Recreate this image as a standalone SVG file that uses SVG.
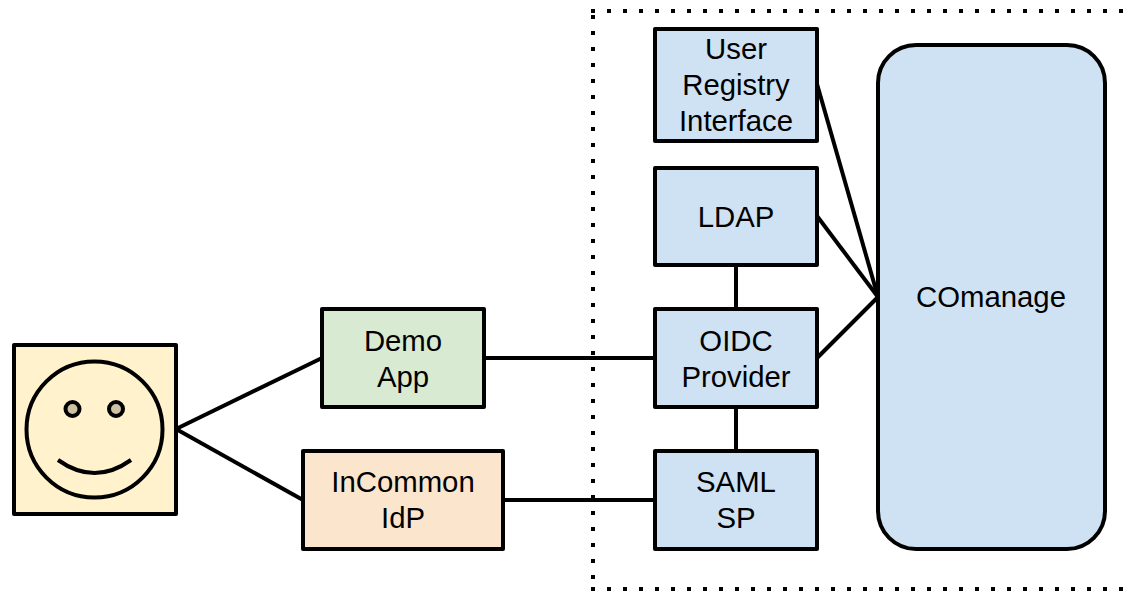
<svg xmlns="http://www.w3.org/2000/svg" width="1130" height="591" viewBox="0 0 1130 591">
<style>
.n{stroke:#000;stroke-width:4;stroke-linejoin:round}
.b{fill:#cfe2f3}
.l{fill:none;stroke:#000;stroke-width:4}
.d{fill:none;stroke:#000;stroke-width:4;stroke-dasharray:4 12}
text{font-family:"Liberation Sans",Arial,sans-serif;font-size:29.33px;fill:#000;text-anchor:middle}
</style>
<rect width="1130" height="591" fill="#fff"/>
<g id="boundary">
<path class="d" d="M591 11H1130"/>
<path class="d" d="M593 15V591"/>
<path class="d" d="M591 589H1130"/>
</g>
<g id="connectors">
<path class="l" d="M176 429L322 358"/>
<path class="l" d="M176 429L303 500"/>
<path class="l" d="M484 358H655"/>
<path class="l" d="M503 500H655"/>
<path class="l" d="M736 265V309"/>
<path class="l" d="M736 407V451"/>
<path class="l" d="M817 84L878 297"/>
<path class="l" d="M817 216L878 297"/>
<path class="l" d="M817 358L878 297"/>
</g>
<g id="user">
<rect class="n" x="14" y="345" width="162" height="169" fill="#fff2cc"/>
<circle class="n" cx="94.500" cy="429.500" r="68" fill="#fff2cc"/>
<circle class="n" cx="72.500" cy="409" r="7" fill="#ccc2a3"/>
<circle class="n" cx="116" cy="409" r="7" fill="#ccc2a3"/>
<path class="l" d="M58 460Q94.500 486 131 460"/>
</g>
<g id="demo-app">
<rect class="n" x="322" y="309" width="162" height="98" fill="#d9ead3"/>
<text x="403" y="351">Demo</text>
<text x="403" y="387">App</text>
</g>
<g id="incommon-idp">
<rect class="n" x="303" y="451" width="200" height="98" fill="#fce5cd"/>
<text x="403" y="492">InCommon</text>
<text x="403" y="528">IdP</text>
</g>
<g id="user-registry-interface">
<rect class="n b" x="655" y="29" width="162" height="112"/>
<text x="736" y="59">User</text>
<text x="736" y="95">Registry</text>
<text x="736" y="131">Interface</text>
</g>
<g id="ldap">
<rect class="n b" x="655" y="168" width="162" height="97"/>
<text x="736" y="227">LDAP</text>
</g>
<g id="oidc-provider">
<rect class="n b" x="655" y="309" width="162" height="98"/>
<text x="736" y="351">OIDC</text>
<text x="736" y="387">Provider</text>
</g>
<g id="saml-sp">
<rect class="n b" x="655" y="451" width="162" height="98"/>
<text x="736" y="492">SAML</text>
<text x="736" y="528">SP</text>
</g>
<g id="comanage">
<rect class="n b" x="878" y="45" width="227" height="504" rx="38" ry="38"/>
<text x="991" y="307">COmanage</text>
</g>
</svg>
